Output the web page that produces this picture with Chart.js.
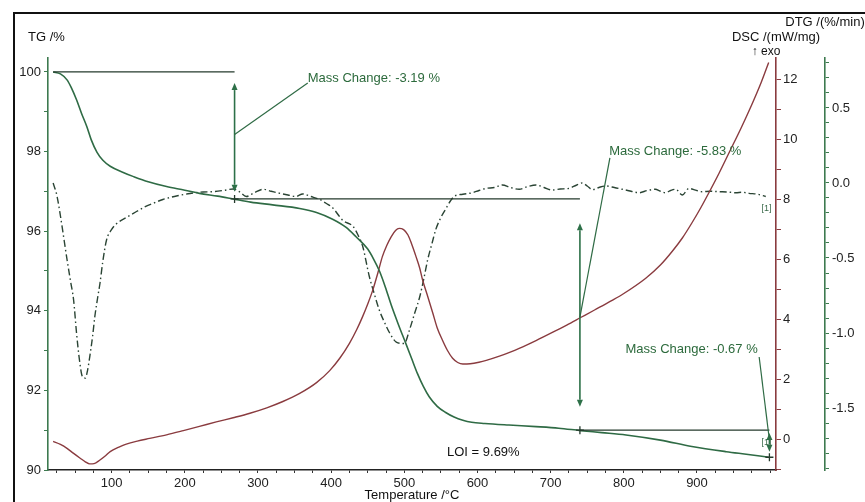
<!DOCTYPE html>
<html><head><meta charset="utf-8">
<script src="https://cdn.jsdelivr.net/npm/chart.js@4.4.1/dist/chart.umd.min.js"></script>
<style>html,body{margin:0;padding:0;background:#fff;}#wrap{width:865px;height:502px;position:relative;}</style>
</head><body><div id="wrap"><canvas id="c" width="865" height="502"></canvas></div>
<script>
// ---- data ----
const tgTemps = [20,30,39,45,52,59,66,72,80,88,98,115,130,150,175,200,220,245,266,290,320,357,380,402,420,434,450,458,466,474,482,492,502,510,518,526,534,545,556,568,580,592,610,643,680,711,741,770,803,850,893,940,970,998];
const tgValues = [100.0,99.95,99.8,99.6,99.3,98.95,98.63,98.3,97.98,97.78,97.63,97.48,97.37,97.24,97.12,97.03,96.95,96.88,96.81,96.73,96.66,96.57,96.47,96.3,96.1,95.86,95.55,95.3,95.0,94.6,94.15,93.65,93.18,92.8,92.42,92.1,91.84,91.6,91.45,91.33,91.25,91.2,91.17,91.13,91.09,91.05,90.99,90.94,90.88,90.75,90.59,90.46,90.39,90.32];

const dscTemps = [20,30,39,48,57,64,70,76,84,92,98,110,120,135,152,175,198,220,243,266,289,312,334,357,380,398,412,425,435,443,450,457,464,470,476,482,488,493,499,505,510,516,521,525,532,539,545,552,559,566,573,580,590,602,612,630,643,657,680,703,722,741,760,784,800,830,850,866,880,893,905,915,930,945,960,975,988,998];
const dscValues = [-0.08,-0.18,-0.31,-0.48,-0.64,-0.76,-0.83,-0.82,-0.70,-0.55,-0.42,-0.27,-0.17,-0.07,0.02,0.14,0.28,0.42,0.57,0.71,0.86,1.04,1.25,1.52,1.88,2.28,2.7,3.19,3.65,4.08,4.5,4.97,5.55,6.08,6.45,6.74,6.95,7.02,6.98,6.8,6.5,6.08,5.7,5.3,4.75,4.19,3.7,3.3,2.95,2.69,2.55,2.5,2.51,2.56,2.62,2.76,2.88,3.02,3.28,3.56,3.8,4.05,4.3,4.62,4.85,5.36,5.8,6.25,6.7,7.2,7.7,8.15,8.85,9.6,10.35,11.15,11.9,12.55];

const dtgTemps = [20,25,30,35,39,44,48,52,56,60,64,67,70,74,77,81,84,88,93,100,107,120,134,145,157,170,190,207,225,239,255,266,275,284,295,307,318,330,341,352,361,372,384,393,402,416,430,437,443,452,459,466,473,480,489,500,507,514,521,527,532,538,543,550,557,563,568,580,593,602,612,623,634,645,657,668,680,691,702,713,725,735,743,750,757,766,775,787,798,810,821,832,843,850,857,864,871,880,889,898,907,918,930,941,953,962,971,983,994];
const dtgValues = [0.0,-0.08,-0.22,-0.38,-0.51,-0.66,-0.78,-1.0,-1.18,-1.29,-1.30,-1.25,-1.16,-1.02,-0.89,-0.76,-0.67,-0.52,-0.38,-0.31,-0.27,-0.23,-0.19,-0.16,-0.135,-0.11,-0.085,-0.07,-0.06,-0.058,-0.048,-0.04,-0.06,-0.09,-0.065,-0.042,-0.055,-0.069,-0.08,-0.09,-0.073,-0.09,-0.109,-0.135,-0.165,-0.25,-0.29,-0.35,-0.42,-0.62,-0.74,-0.85,-0.93,-1.0,-1.06,-1.07,-0.98,-0.87,-0.76,-0.63,-0.51,-0.40,-0.31,-0.23,-0.17,-0.12,-0.09,-0.075,-0.065,-0.05,-0.036,-0.03,-0.013,-0.03,-0.042,-0.025,-0.013,-0.03,-0.047,-0.04,-0.036,-0.015,0.0,-0.02,-0.045,-0.03,-0.02,-0.03,-0.042,-0.055,-0.065,-0.05,-0.042,-0.055,-0.065,-0.05,-0.042,-0.08,-0.036,-0.048,-0.058,-0.055,-0.058,-0.06,-0.065,-0.062,-0.069,-0.075,-0.09];

// mass-change step annotations (temperature / TG-% units)
const stepStart = [20, 268, 740];
const stepEnd = [268, 740, 999];
const stepLevel = [100, 96.81, 91.0, 90.32];
const arrowTop = [99.72, 96.2, 90.93];
const arrowBottom = [96.99, 91.59, 90.46];
const leaderFromTG = [98.43, 93.84, 90.75];
const leaderToT = [368, 781, 985];
const leaderToTG = [99.72, 97.84, 92.84];
const massLabels = ['Mass Change: -3.19 %', 'Mass Change: -5.83 %', 'Mass Change: -0.67 %'];
const labelT = [368, 780, 983];
const labelTG = [99.84, 98.0, 93.02];
const labelAlign = ['left', 'left', 'right'];
const loiText = 'LOI = 9.69%';
const loiT = 608, loiTG = 90.43;

// axis ranges / tick labels
const xRange = [13, 1008];
const xLabelled = [100, 200, 300, 400, 500, 600, 700, 800, 900];
const tgRange = [90, 100.35];
const dscRange = [-1.033, 12.7];
const dtgRange = [-1.913, 0.833];
const titles = {tg: 'TG /%', dsc: 'DSC /(mW/mg)', dtg: 'DTG /(%/min)', exo: '↑ exo', x: 'Temperature /°C'};

const FONT = '"Liberation Sans", Arial, sans-serif';
const GREEN = '#2f6b45';
const RED = '#8a3b3f';
const toXY = (xs, ys) => xs.map((x, i) => ({x, y: ys[i]}));

const annot = {
  id: 'annot',
  beforeDraw(chart) {
    const c = chart.ctx;
    c.save();
    c.strokeStyle = '#111'; c.lineWidth = 2;
    c.beginPath(); c.moveTo(14, 502); c.lineTo(14, 13); c.lineTo(865, 13); c.stroke();
    c.restore();
  },
  afterDatasetsDraw(chart) {
    const c = chart.ctx, X = chart.scales.x, Y = chart.scales.yTG;
    const px = t => X.getPixelForValue(t), py = v => Y.getPixelForValue(v);
    c.save();
    c.strokeStyle = '#243a2c'; c.lineWidth = 1.3;
    for (let i = 0; i < 3; i++) {
      c.beginPath(); c.moveTo(px(stepStart[i]), py(stepLevel[i])); c.lineTo(px(stepEnd[i]), py(stepLevel[i])); c.stroke();
    }
    for (let i = 0; i < 3; i++) {
      const x = px(stepEnd[i]), y = py(stepLevel[i + 1]);
      c.beginPath(); c.moveTo(x, y - 4); c.lineTo(x, y + 4); c.moveTo(x - 4, y); c.lineTo(x + 4, y); c.stroke();
    }
    c.strokeStyle = '#2d7048'; c.fillStyle = '#2d7048'; c.lineWidth = 1.6;
    for (let i = 0; i < 3; i++) {
      const x = px(stepEnd[i]), y1 = py(arrowTop[i]), y2 = py(arrowBottom[i]);
      const h = Math.min(7, (y2 - y1) / 2.5);
      c.beginPath(); c.moveTo(x, y1 + h); c.lineTo(x, y2 - h); c.stroke();
      c.beginPath(); c.moveTo(x, y1); c.lineTo(x - 3, y1 + h); c.lineTo(x + 3, y1 + h); c.closePath(); c.fill();
      c.beginPath(); c.moveTo(x, y2); c.lineTo(x - 3, y2 - h); c.lineTo(x + 3, y2 - h); c.closePath(); c.fill();
    }
    c.strokeStyle = GREEN; c.lineWidth = 1.2;
    for (let i = 0; i < 3; i++) {
      c.beginPath(); c.moveTo(px(stepEnd[i]), py(leaderFromTG[i])); c.lineTo(px(leaderToT[i]), py(leaderToTG[i])); c.stroke();
    }
    c.font = '13px ' + FONT; c.textBaseline = 'middle'; c.fillStyle = '#2c6a3c';
    for (let i = 0; i < 3; i++) {
      c.textAlign = labelAlign[i];
      c.fillText(massLabels[i], px(labelT[i]), py(labelTG[i]));
    }
    c.fillStyle = '#111'; c.textAlign = 'center';
    c.fillText(loiText, px(loiT), py(loiTG));
    c.font = '9px ' + FONT; c.fillStyle = '#3a6a4a';
    c.fillText('[1]', px(995), chart.scales.yDTG.getPixelForValue(-0.17));
    c.fillText('[1]', px(995), py(90.68));
    c.restore();
  },
  afterDraw(chart) {
    const c = chart.ctx, a = chart.chartArea;
    const dsc = chart.scales.yDSC, dtg = chart.scales.yDTG;
    c.save();
    c.fillStyle = '#111'; c.font = '13px ' + FONT; c.textBaseline = 'middle';
    c.textAlign = 'left'; c.fillText(titles.tg, 28, 37);
    c.textAlign = 'center';
    c.fillText(titles.dsc, dsc.left, 37);
    c.fillText(titles.dtg, dtg.left, 22);
    c.fillText(titles.x, (a.left + a.right) / 2, 495);
    c.font = '12px ' + FONT;
    c.fillText(titles.exo, dsc.left - 10, 52);
    c.restore();
  }
};

const tickFont = {size: 13, family: FONT};
new Chart(document.getElementById('c'), {
  type: 'line',
  data: {
    datasets: [
      {label: 'TG', data: toXY(tgTemps, tgValues), yAxisID: 'yTG', borderColor: GREEN, borderWidth: 1.6, pointRadius: 0, cubicInterpolationMode: 'monotone', fill: false},
      {label: 'DSC', data: toXY(dscTemps, dscValues), yAxisID: 'yDSC', borderColor: RED, borderWidth: 1.4, pointRadius: 0, cubicInterpolationMode: 'monotone', fill: false},
      {label: 'DTG', data: toXY(dtgTemps, dtgValues), yAxisID: 'yDTG', borderColor: '#2a4434', borderWidth: 1.4, borderDash: [7, 3, 1.5, 3], pointRadius: 0, cubicInterpolationMode: 'monotone', fill: false}
    ]
  },
  options: {
    responsive: false, animation: false, devicePixelRatio: 1,
    layout: {padding: {top: 58, left: 0, right: 0, bottom: 0}},
    plugins: {legend: {display: false}, tooltip: {enabled: false}},
    scales: {
      x: {type: 'linear', position: 'bottom', min: xRange[0], max: xRange[1],
        ticks: {stepSize: 25, includeBounds: false, autoSkip: false, maxRotation: 0, padding: 3, color: '#222', font: tickFont,
          callback: v => (xLabelled.includes(v) ? String(v) : '')},
        grid: {drawOnChartArea: false, drawTicks: true, tickLength: 3, color: '#333'},
        border: {display: true, color: '#222', width: 1.5},
        afterFit: s => { s.height = 32; }
      },
      yTG: {type: 'linear', position: 'left', min: tgRange[0], max: tgRange[1],
        ticks: {stepSize: 1, includeBounds: false, autoSkip: false, padding: 3, color: '#222', font: tickFont,
          callback: v => (v % 2 === 0 ? String(v) : '')},
        grid: {drawOnChartArea: false, tickLength: 4, color: '#3d7a4f'},
        border: {display: true, color: '#3d7a4f', width: 1.6},
        afterFit: s => { s.width = 48; }
      },
      yDSC: {type: 'linear', position: 'right', min: dscRange[0], max: dscRange[1],
        ticks: {stepSize: 1, includeBounds: false, autoSkip: false, padding: 2, color: '#222', font: tickFont,
          callback: v => (Math.round(v) % 2 === 0 ? String(Math.round(v)) : '')},
        grid: {drawOnChartArea: false, tickLength: 5, color: RED},
        border: {display: true, color: RED, width: 1.6},
        afterFit: s => { s.width = 49; }
      },
      yDTG: {type: 'linear', position: 'right', min: dtgRange[0], max: dtgRange[1],
        ticks: {stepSize: 0.1, includeBounds: false, autoSkip: false, padding: 3, color: '#222', font: tickFont,
          callback: v => (Math.abs(v * 2 - Math.round(v * 2)) < 1e-6 ? v.toFixed(1) : '')},
        grid: {drawOnChartArea: false, tickLength: 4, color: '#3d7a4f'},
        border: {display: true, color: '#3d7a4f', width: 1.6},
        afterFit: s => { s.width = 40; }
      }
    }
  },
  plugins: [annot]
});
</script>
</body></html>
